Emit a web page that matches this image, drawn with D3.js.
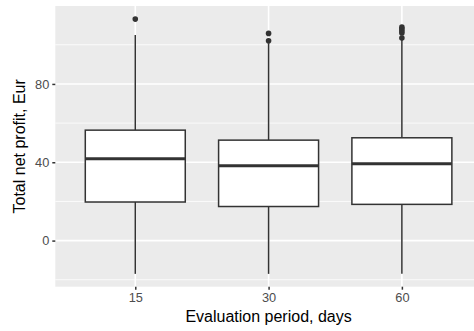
<!DOCTYPE html>
<html>
<head>
<meta charset="utf-8">
<script src="https://cdn.jsdelivr.net/npm/d3@7"></script>
<style>
  html, body { margin: 0; padding: 0; background: #ffffff; }
  svg { display: block; font-family: "Liberation Sans", Arial, sans-serif; }
</style>
</head>
<body>
<svg id="chart" width="474" height="331"></svg>
<script>
// Box plot summaries of total net profit by evaluation period
const periods = ["15", "30", "60"];
const whiskerLow = [-17, -17, -17];
const q1 = [19.7, 17.4, 18.5];
const median = [41.8, 38.2, 39.2];
const q3 = [56.4, 51.3, 52.5];
const whiskerHigh = [105, 100.8, 102.4];
const outliers = [
  [113.1],
  [105.8, 102.0],
  [109.0, 108.0, 107.0, 106.0, 103.4]
];
const yTicks = [0, 40, 80];
const yMinor = [-20, 20, 60, 100];

const svg = d3.select("#chart");
const margin = { left: 55.3, top: 6, bottom: 286.7 };
const step = 133.3;
const panelRight = margin.left + step * 3.2;

// Discrete x scale with ggplot-style 0.6 expansion on each side
const x = d3.scalePoint()
  .domain(periods)
  .range([margin.left + step * 0.6, panelRight - step * 0.6]);

const y = d3.scaleLinear()
  .domain([-23.55, 119.8])
  .range([margin.bottom, margin.top]);

// Panel
svg.append("rect")
  .attr("x", margin.left).attr("y", margin.top)
  .attr("width", panelRight - margin.left)
  .attr("height", margin.bottom - margin.top)
  .attr("fill", "#EBEBEB");

const grid = svg.append("g");
grid.selectAll(".minor").data(yMinor).join("line")
  .attr("x1", margin.left).attr("x2", panelRight)
  .attr("y1", d => y(d)).attr("y2", d => y(d))
  .attr("stroke", "#ffffff").attr("stroke-width", 0.8);
grid.selectAll(".majorY").data(yTicks).join("line")
  .attr("x1", margin.left).attr("x2", panelRight)
  .attr("y1", d => y(d)).attr("y2", d => y(d))
  .attr("stroke", "#ffffff").attr("stroke-width", 1.6);
grid.selectAll(".majorX").data(periods).join("line")
  .attr("x1", d => x(d)).attr("x2", d => x(d))
  .attr("y1", margin.top).attr("y2", margin.bottom)
  .attr("stroke", "#ffffff").attr("stroke-width", 1.6);

// Boxes
const boxW = step * 0.75;
const boxes = svg.append("g");
periods.forEach((p, i) => {
  const cx = x(p);
  const g = boxes.append("g");
  g.append("line")
    .attr("x1", cx).attr("x2", cx)
    .attr("y1", y(q3[i])).attr("y2", y(whiskerHigh[i]))
    .attr("stroke", "#333333").attr("stroke-width", 1.5);
  g.append("line")
    .attr("x1", cx).attr("x2", cx)
    .attr("y1", y(q1[i])).attr("y2", y(whiskerLow[i]))
    .attr("stroke", "#333333").attr("stroke-width", 1.5);
  g.append("rect")
    .attr("x", cx - boxW / 2).attr("width", boxW)
    .attr("y", y(q3[i])).attr("height", y(q1[i]) - y(q3[i]))
    .attr("fill", "#ffffff").attr("stroke", "#333333").attr("stroke-width", 1.5);
  g.append("line")
    .attr("x1", cx - boxW / 2).attr("x2", cx + boxW / 2)
    .attr("y1", y(median[i])).attr("y2", y(median[i]))
    .attr("stroke", "#333333").attr("stroke-width", 3);
  g.selectAll("circle").data(outliers[i]).join("circle")
    .attr("cx", cx).attr("cy", d => y(d)).attr("r", 2.8)
    .attr("fill", "#333333");
});

// Axes
const yAxis = svg.append("g")
  .attr("transform", `translate(${margin.left},0)`)
  .call(d3.axisLeft(y).tickValues(yTicks).tickSize(3).tickPadding(3));
const xAxis = svg.append("g")
  .attr("transform", `translate(0,${margin.bottom})`)
  .call(d3.axisBottom(x).tickSize(3).tickPadding(3));
[yAxis, xAxis].forEach(a => {
  a.select(".domain").remove();
  a.selectAll(".tick line").attr("stroke", "#333333").attr("stroke-width", 1.5);
  a.selectAll(".tick text")
    .attr("fill", "#4D4D4D")
    .style("font-size", "12.8px")
    .style("font-family", "'Liberation Sans', Arial, sans-serif");
});

// Axis titles
svg.append("text")
  .attr("x", x("30")).attr("y", 322)
  .attr("text-anchor", "middle")
  .style("font-size", "16px")
  .attr("fill", "#000000")
  .text("Evaluation period, days");

svg.append("text")
  .attr("transform", `translate(25,${(margin.top + margin.bottom) / 2}) rotate(-90)`)
  .attr("text-anchor", "middle")
  .style("font-size", "16px")
  .attr("fill", "#000000")
  .text("Total net profit, Eur");
</script>
</body>
</html>
